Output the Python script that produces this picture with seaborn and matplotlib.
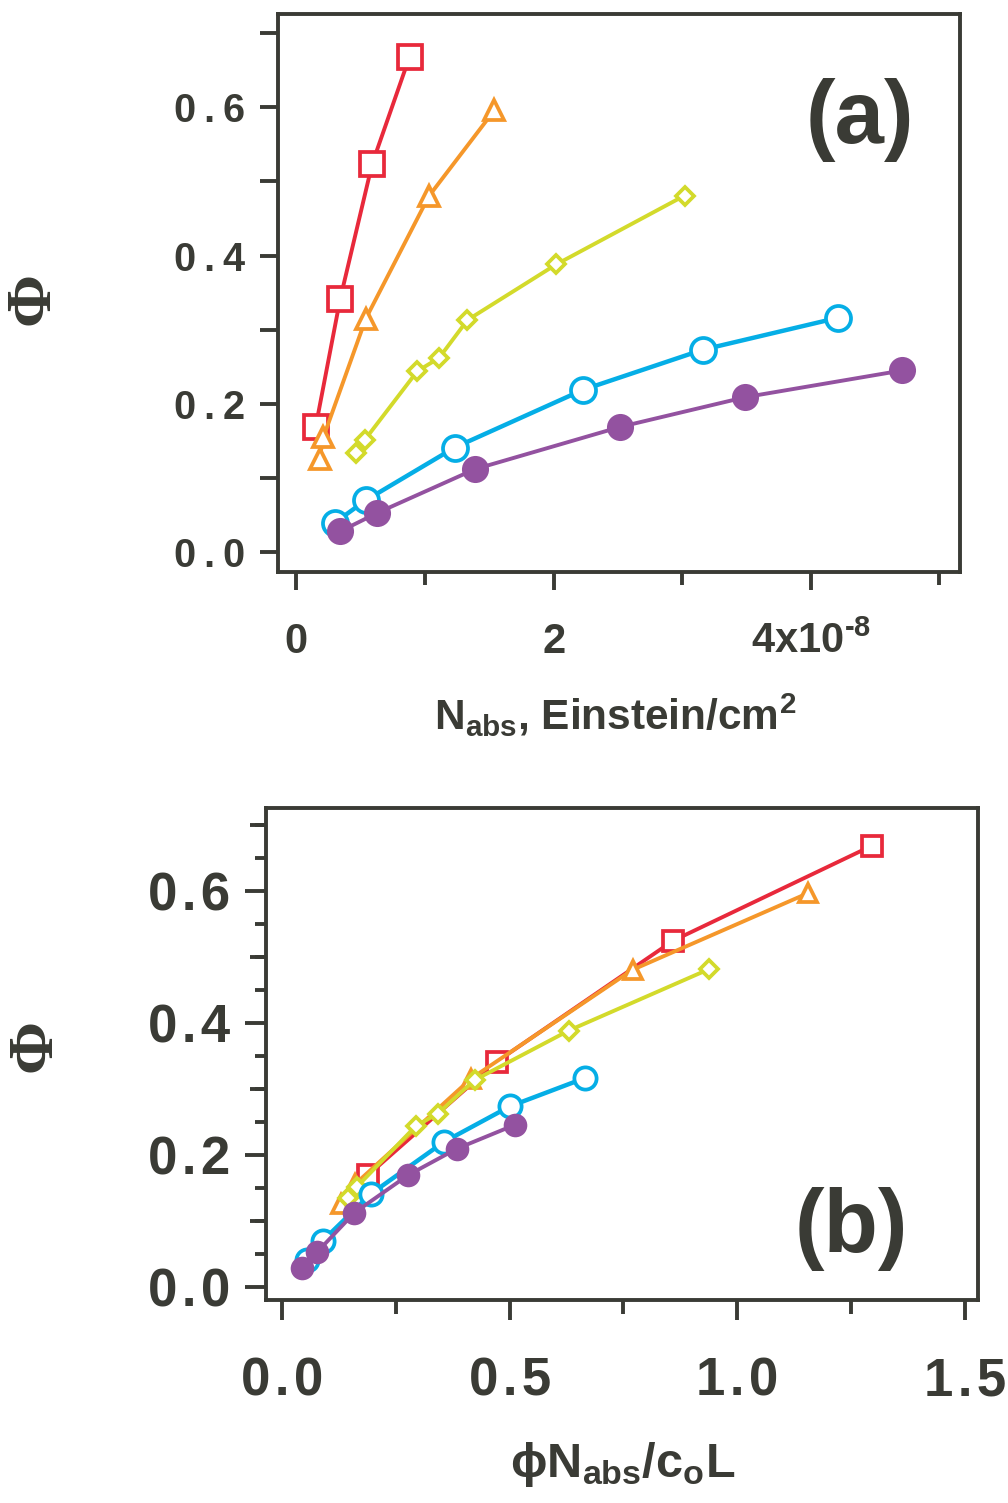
import matplotlib
matplotlib.use("Agg")
import matplotlib.pyplot as plt
import seaborn as sns
import numpy as np
from matplotlib.ticker import FixedLocator, MultipleLocator

# Quantum yield (Phi) for five series
phi_red = [0.169, 0.341, 0.524, 0.668]
phi_orange = [0.126, 0.155, 0.315, 0.480, 0.596]
phi_yellow = [0.134, 0.151, 0.244, 0.262, 0.313, 0.388, 0.481]
phi_blue = [0.040, 0.070, 0.141, 0.219, 0.273, 0.316]
phi_purple = [0.028, 0.053, 0.112, 0.169, 0.209, 0.245]

# Absorbed photons N_abs (units of 1e-8 Einstein/cm^2)
nabs_red = [0.15, 0.34, 0.59, 0.88]
nabs_orange = [0.18, 0.21, 0.54, 1.03, 1.54]
nabs_yellow = [0.46, 0.53, 0.94, 1.11, 1.33, 2.02, 3.02]
nabs_blue = [0.30, 0.54, 1.23, 2.23, 3.16, 4.21]
nabs_purple = [0.34, 0.63, 1.39, 2.52, 3.49, 4.71]

# Scaled dose phi*N_abs/(c_o L)
dose_red = [0.189, 0.472, 0.859, 1.296]
dose_orange = [0.13, 0.16, 0.415, 0.77, 1.155]
dose_yellow = [0.146, 0.164, 0.295, 0.342, 0.423, 0.630, 0.938]
dose_blue = [0.055, 0.090, 0.196, 0.355, 0.500, 0.665]
dose_purple = [0.043, 0.078, 0.159, 0.277, 0.384, 0.511]

a_xticks = [0, 2, 4]
a_xticklabels = ["0", "2", "4x10$^{\u20108}$"]
a_yticks = [0.0, 0.2, 0.4, 0.6]
b_xticks = [0.0, 0.5, 1.0, 1.5]
b_yticks = [0.0, 0.2, 0.4, 0.6]

DARK = "#3a3b35"
RED = "#e8293b"
ORANGE = "#f5972a"
YELLOW = "#d3da2b"
BLUE = "#05aee6"
PURPLE = "#9352a0"

sns.set_style("ticks")
plt.rcParams["font.family"] = ["Liberation Sans", "DejaVu Sans"]
plt.rcParams["font.weight"] = "bold"
plt.rcParams["mathtext.default"] = "regular"
plt.rcParams["text.color"] = DARK
plt.rcParams["axes.labelcolor"] = DARK

fig = plt.figure(figsize=(10.08, 15.03), dpi=100)
ax_a = fig.add_axes([0.2758, 0.6194, 0.6766, 0.3713])
ax_b = fig.add_axes([0.2639, 0.1351, 0.7063, 0.3273])

series = [
    # color, marker, filled, x(a), x(b), phi, ms(a), ms(b), lw
    (RED, "s", False, nabs_red, dose_red, phi_red, 17, 15, 2.8),
    (ORANGE, "^", False, nabs_orange, dose_orange, phi_orange, 14, 13, 2.8),
    (YELLOW, "D", False, nabs_yellow, dose_yellow, phi_yellow, 9.5, 9, 2.8),
    (BLUE, "o", False, nabs_blue, dose_blue, phi_blue, 18, 16, 3.2),
    (PURPLE, "o", True, nabs_purple, dose_purple, phi_purple, 19.5, 17, 2.8),
]

for color, marker, filled, xa, xb, phi, msa, msb, lw in series:
    for ax, xs, ms in ((ax_a, xa, msa), (ax_b, xb, msb)):
        sns.lineplot(
            x=np.asarray(xs), y=np.asarray(phi), ax=ax, color=color,
            linewidth=lw, marker=marker, markersize=ms,
            markerfacecolor=color if filled else "white",
            markeredgecolor=color, markeredgewidth=0 if filled else 2.7,
            errorbar=None, sort=False, clip_on=False,
        )

for ax in (ax_a, ax_b):
    for sp in ax.spines.values():
        sp.set_visible(True)
        sp.set_linewidth(2.8)
        sp.set_color(DARK)
    ax.tick_params(which="both", direction="out", width=2.8, color=DARK,
                   labelcolor=DARK, top=False, right=False)
    ax.set_xlabel("")
    ax.set_ylabel("")

# ---- panel (a)
ax_a.set_xlim(-0.143, 5.161)
ax_a.set_ylim(-0.0268, 0.7258)
ax_a.set_xticks(a_xticks)
ax_a.set_xticklabels(a_xticklabels)
ax_a.xaxis.set_minor_locator(FixedLocator([1, 3, 5]))
ax_a.set_yticks(a_yticks)
ax_a.set_yticklabels([f"{v:.1f}".replace(".", "\u2009.\u2009") for v in a_yticks])
ax_a.yaxis.set_minor_locator(FixedLocator([0.1, 0.3, 0.5, 0.7]))
ax_a.tick_params(axis="y", which="both", length=13)
ax_a.tick_params(axis="y", which="major", pad=10.5, labelsize=28.5)
ax_a.tick_params(axis="x", which="major", length=13, pad=45, labelsize=30)
ax_a.tick_params(axis="x", which="minor", length=9.5)
for lab in ax_a.get_xticklabels():
    lab.set_verticalalignment("baseline")

ax_a.text(0.494, -0.283, "N$_{abs}$, Einstein/cm$^{2}$", transform=ax_a.transAxes,
          ha="center", va="baseline", fontsize=30.5, fontweight="bold", color=DARK)
ax_a.text(-0.359, 0.491, "\u03a6", transform=ax_a.transAxes, rotation=90,
          ha="center", va="center", fontsize=46, fontweight="bold",
          family=["Liberation Serif", "DejaVu Serif"], color=DARK)
ax_a.text(0.853, 0.810, "(a)", transform=ax_a.transAxes, ha="center", va="center",
          fontsize=64, fontweight="bold", color=DARK)

# ---- panel (b)
ax_b.set_xlim(-0.035, 1.5285)
ax_b.set_ylim(-0.02, 0.725)
ax_b.set_xticks(b_xticks)
ax_b.set_xticklabels([f"{v:.1f}".replace(".", "\u200a.\u200a") for v in b_xticks])
ax_b.xaxis.set_minor_locator(FixedLocator([0.25, 0.75, 1.25]))
ax_b.set_yticks(b_yticks)
ax_b.set_yticklabels([f"{v:.1f}".replace(".", "\u200a.\u200a") for v in b_yticks])
ax_b.yaxis.set_minor_locator(MultipleLocator(0.05))
ax_b.tick_params(axis="y", which="major", length=15, pad=11, labelsize=38)
ax_b.tick_params(axis="y", which="minor", length=8)
ax_b.tick_params(axis="x", which="major", length=14.4, pad=26, labelsize=38)
ax_b.tick_params(axis="x", which="minor", length=10)

mid = ax_b.secondary_yaxis("left")
mid.set_yticks([0.1, 0.3, 0.5, 0.7])
mid.set_yticklabels([])
mid.yaxis.set_minor_locator(FixedLocator([]))
mid.tick_params(which="major", direction="out", length=11.5, width=2.8, color=DARK)
for sp in mid.spines.values():
    sp.set_visible(False)

ax_b.text(0.501, -0.360, "\u03d5N$_{abs}$/c$_{o}$L", transform=ax_b.transAxes,
          ha="center", va="baseline", fontsize=35, fontweight="bold", color=DARK)
ax_b.text(-0.324, 0.518, "\u03a6", transform=ax_b.transAxes, rotation=90,
          ha="center", va="center", fontsize=46, fontweight="bold",
          family=["Liberation Serif", "DejaVu Serif"], color=DARK)
ax_b.text(0.822, 0.144, "(b)", transform=ax_b.transAxes, ha="center", va="center",
          fontsize=64, fontweight="bold", color=DARK)

fig.savefig("out.png", dpi=100)
